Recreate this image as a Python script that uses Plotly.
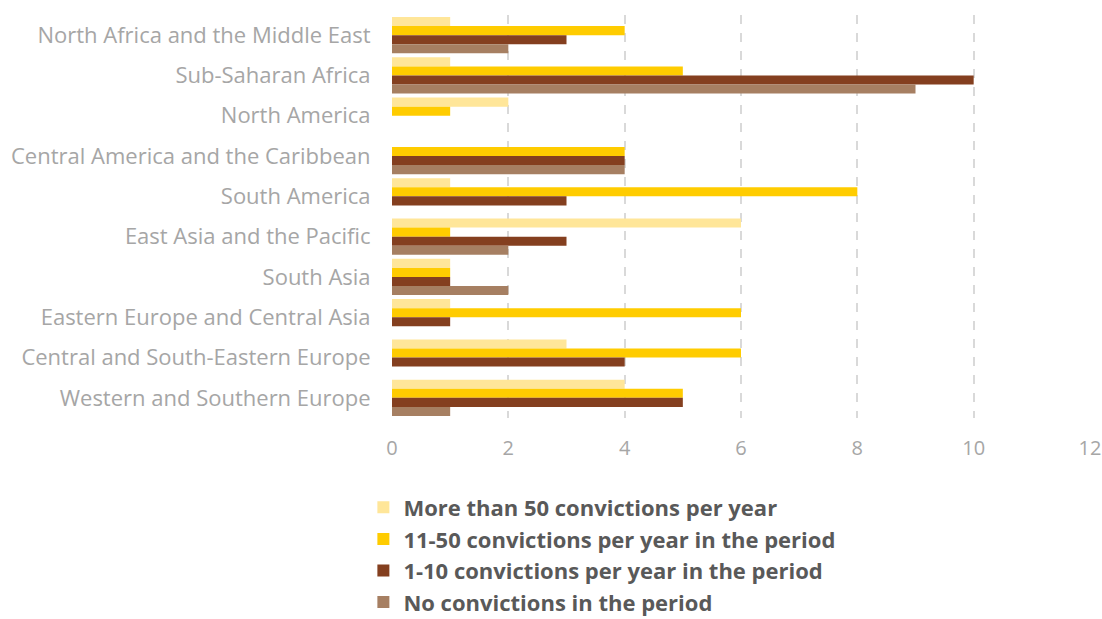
import plotly.graph_objects as go

regions = [
    "North Africa and the Middle East",
    "Sub-Saharan Africa",
    "North America",
    "Central America and the Caribbean",
    "South America",
    "East Asia and the Pacific",
    "South Asia",
    "Eastern Europe and Central Asia",
    "Central and South-Eastern Europe",
    "Western and Southern Europe",
]
more_than_50 = [1, 1, 2, 0, 1, 6, 1, 1, 3, 4]
from_11_to_50 = [4, 5, 1, 4, 8, 1, 1, 6, 6, 5]
from_1_to_10 = [3, 10, 0, 4, 3, 3, 1, 1, 4, 5]
no_convictions = [2, 9, 0, 4, 0, 2, 2, 0, 0, 1]

series = [
    ("More than 50 convictions per year", more_than_50, "#FFE699"),
    ("11-50 convictions per year in the period", from_11_to_50, "#FFCC00"),
    ("1-10 convictions per year in the period", from_1_to_10, "#843F1F"),
    ("No convictions in the period", no_convictions, "#A67F62"),
]

fig = go.Figure()
for i, (name, vals, col) in enumerate(series):
    fig.add_trace(go.Bar(
        y=regions, x=vals, name=name, orientation="h",
        marker=dict(color=col, line=dict(width=0)),
        legendgroup=f"g{i}",
    ))

fig.update_layout(
    width=1102, height=619,
    margin=dict(l=392, r=12, t=15, b=201, autoexpand=False),
    paper_bgcolor="white", plot_bgcolor="white",
    barmode="group", bargap=0.1, bargroupgap=0,
    font=dict(family="Open Sans", color="#A6A6A6", size=22),
    xaxis=dict(
        range=[0, 12], dtick=2, tick0=0,
        showgrid=True, gridcolor="#D9D9D9", griddash="dash", gridwidth=1.5,
        zeroline=False, showline=False, automargin=False,
        ticks="outside", ticklen=12, tickcolor="rgba(0,0,0,0)",
        tickfont=dict(size=20, color="#A6A6A6"),
    ),
    yaxis=dict(
        autorange="reversed", showgrid=False, zeroline=False, showline=False,
        automargin=False,
        ticks="outside", ticklen=16, tickcolor="rgba(0,0,0,0)",
        tickfont=dict(size=22, color="#A6A6A6"),
    ),
    legend=dict(
        orientation="v", x=-0.041, xanchor="left", y=-0.17, yanchor="top",
        font=dict(family="Open Sans", size=22, color="#595959", weight="bold"),
        tracegroupgap=0, itemwidth=30,
    ),
    showlegend=True,
)
fig.write_html(
    "out.html",
    config={"displayModeBar": False},
    post_script="document.body.style.margin='0';document.body.style.overflow='hidden';",
)
